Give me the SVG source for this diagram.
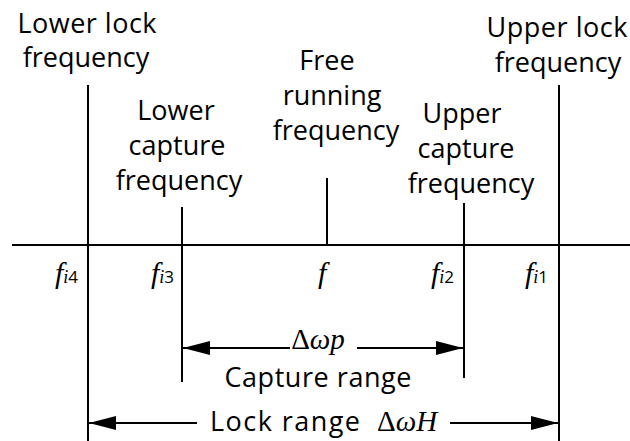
<svg xmlns="http://www.w3.org/2000/svg" width="630" height="441" viewBox="0 0 630 441">
<style>
.lbl{font-family:"Open Sans","Liberation Sans",sans-serif;font-size:27px;fill:#000;text-anchor:middle}
.ln{stroke:#000;stroke-width:2;fill:none}
.f{font-family:"Liberation Serif",serif;font-style:italic;font-size:30px;fill:#000}
.sub{font-family:"Liberation Serif",serif;font-style:italic;font-size:18px}
.dg{font-family:"Open Sans","Liberation Sans",sans-serif;font-style:normal;font-size:17px}
.m{font-family:"Liberation Serif",serif;font-size:29px;fill:#000}
.it{font-style:italic}
</style>
<defs>
<marker id="ah" markerUnits="userSpaceOnUse" markerWidth="28" markerHeight="16" refX="27" refY="7" orient="auto">
<polygon points="0,0 27,7 0,14" fill="#000"/>
</marker>
</defs>
<rect width="630" height="441" fill="#fff"/>
<g id="connectors">
<line class="ln" x1="12" y1="245" x2="630" y2="245"/>
<line class="ln" x1="88" y1="85" x2="88" y2="441"/>
<line class="ln" x1="182" y1="207" x2="182" y2="382"/>
<line class="ln" x1="327" y1="178" x2="327" y2="245"/>
<line class="ln" x1="464" y1="203" x2="464" y2="378"/>
<line class="ln" x1="559" y1="85" x2="559" y2="441"/>
<line class="ln" x1="290" y1="348" x2="183" y2="348" marker-end="url(#ah)"/>
<line class="ln" x1="357" y1="348" x2="463" y2="348" marker-end="url(#ah)"/>
<line class="ln" x1="197" y1="423" x2="89" y2="423" marker-end="url(#ah)"/>
<line class="ln" x1="450" y1="423" x2="558" y2="423" marker-end="url(#ah)"/>
</g>
<g id="lower-lock">
<text class="lbl" x="87" y="33" textLength="139">Lower lock</text>
<text class="lbl" x="86" y="67">frequency</text>
</g>
<g id="lower-capture">
<text class="lbl" x="176" y="120">Lower</text>
<text class="lbl" x="177" y="155">capture</text>
<text class="lbl" x="179" y="190">frequency</text>
</g>
<g id="free-running">
<text class="lbl" x="327" y="70">Free</text>
<text class="lbl" x="332" y="105">running</text>
<text class="lbl" x="336" y="140">frequency</text>
</g>
<g id="upper-capture">
<text class="lbl" x="462" y="123">Upper</text>
<text class="lbl" x="466" y="158">capture</text>
<text class="lbl" x="471" y="193">frequency</text>
</g>
<g id="upper-lock">
<text class="lbl" x="557" y="37" textLength="141">Upper lock</text>
<text class="lbl" x="558" y="72">frequency</text>
</g>
<g id="freq-labels">
<text class="f" x="55" y="283">f<tspan class="sub">i</tspan><tspan class="dg">4</tspan></text>
<text class="f" x="151" y="283">f<tspan class="sub">i</tspan><tspan class="dg">3</tspan></text>
<text class="f" x="318" y="283">f</text>
<text class="f" x="431" y="283">f<tspan class="sub">i</tspan><tspan class="dg">2</tspan></text>
<text class="f" x="525" y="283">f<tspan class="sub">i</tspan><tspan class="dg">1</tspan></text>
</g>
<g id="capture-range">
<text class="m" x="318" y="349" text-anchor="middle">Δ<tspan class="it">ωp</tspan></text>
<text class="lbl" x="318" y="387" textLength="187">Capture range</text>
</g>
<g id="lock-range">
<text class="lbl" x="210" y="431" style="text-anchor:start" textLength="150">Lock range</text>
<text class="m" x="377" y="431">Δ<tspan class="it">ωH</tspan></text>
</g>
</svg>
